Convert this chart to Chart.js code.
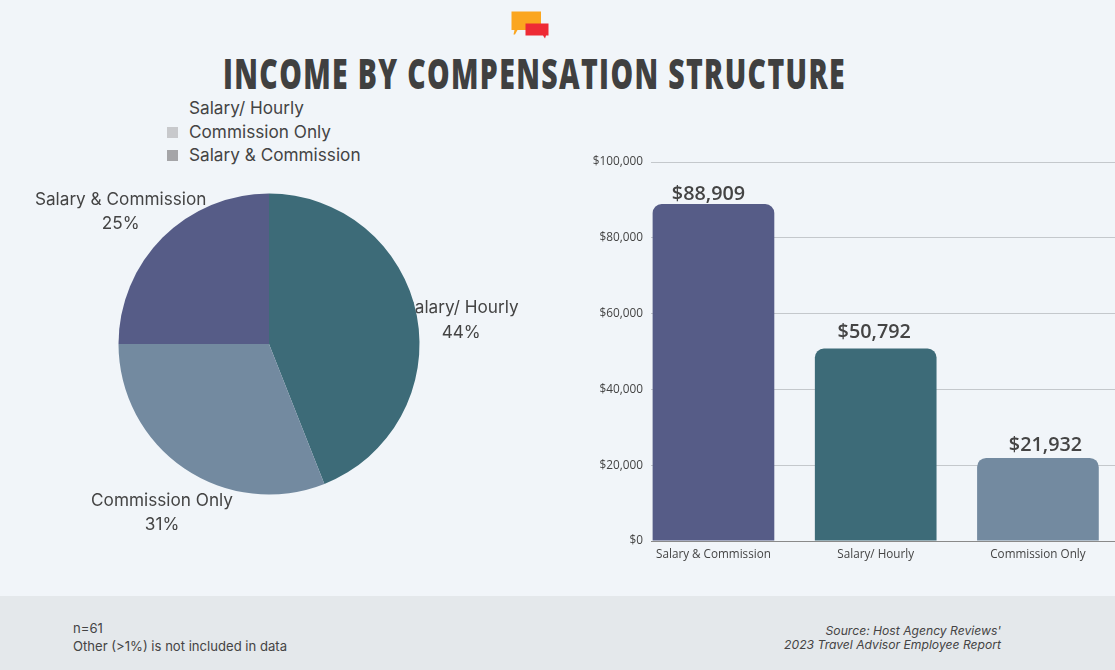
<!DOCTYPE html>
<html><head><meta charset="utf-8">
<script src="https://cdn.jsdelivr.net/npm/chart.js@4"></script>
<style>
html,body{margin:0;padding:0;width:1115px;height:670px;overflow:hidden;background:#f1f5f9;color:#444;}
#footer{position:absolute;left:0;top:596px;width:1115px;height:74px;background:#e4e8eb;}
.t{position:absolute;font-family:Inter,sans-serif;white-space:nowrap;}
#title{position:absolute;left:223px;top:46px;font-family:"Open Sans",sans-serif;font-weight:800;font-size:42px;line-height:54px;color:#404040;white-space:nowrap;transform-origin:0 0;letter-spacing:2px;}
canvas{position:absolute;}
.box{position:absolute;left:167px;width:11px;height:11px;}
</style></head>
<body>
<svg style="position:absolute;left:505px;top:5px" width="50" height="40" viewBox="505 5 50 40">
<path d="M511.500 11.500H541V30H517.500L515 34.500H513.500L514.500 30H511.500Z" fill="#fba61f"/>
<path d="M525.500 23.500H548.500V35.500H546L545 38.500L543 35.500H525.500Z" fill="#ee2a35"/>
</svg>
<div id="title">INCOME BY COMPENSATION STRUCTURE</div>
<div id="legend"></div>
<canvas id="pie" width="538" height="400" style="left:0;top:144px;width:538px;height:400px"></canvas>
<canvas id="bar" width="534" height="431" style="left:581px;top:140px;width:534px;height:431px"></canvas>
<div id="footer"></div>
<div class="t" style="left:73px;top:619px;font-size:13.100px;line-height:18px;">n=61<br>Other (&gt;1%) is not included in data</div>
<div class="t" style="right:114px;top:624px;font-size:12.150px;line-height:14px;font-style:italic;text-align:right;">Source: Host Agency Reviews'<br>2023 Travel Advisor Employee Report</div>
<script>
const pieCategories = ["Salary/ Hourly", "Commission Only", "Salary & Commission"];
const pieValues = [44, 31, 25];
const pieColors = ["#3d6b78", "#738aa0", "#565c87"];

const legendLabels = ["Salary/ Hourly", "Commission Only", "Salary & Commission"];
const legendColors = [null, "#c8c9cc", "#a5a5a8"];

const barCategories = ["Salary & Commission", "Salary/ Hourly", "Commission Only"];
const barPositions = [0, 1, 2];
const barValues = [88909, 50792, 21932];
const barColors = ["#565c87", "#3d6b78", "#738aa0"];

const legendEl = document.getElementById('legend');
legendLabels.forEach((l, i) => {
  const y = 96 + i * 23.5;
  const d = document.createElement('div');
  d.className = 't';
  d.style.cssText = `left:189px;top:${y}px;font-size:17.200px;line-height:24px;color:#444`;
  d.textContent = l;
  legendEl.appendChild(d);
  if (legendColors[i]) {
    const b = document.createElement('div');
    b.className = 'box';
    b.style.top = (y + 7) + 'px';
    b.style.background = legendColors[i];
    legendEl.appendChild(b);
  }
});

const pieLabelOffsets = [[0, 12.500], [3, 7], [-10, 6]];
const pieLabels = {
  id: 'pieLabels',
  beforeDatasetsDraw(chart) {
    const { ctx } = chart;
    const meta = chart.getDatasetMeta(0);
    ctx.save();
    ctx.font = '17.200px Inter, sans-serif';
    ctx.fillStyle = '#444';
    ctx.textAlign = 'center';
    ctx.textBaseline = 'middle';
    meta.data.forEach((arc, i) => {
      const a = (arc.startAngle + arc.endAngle) / 2;
      const r = arc.outerRadius * 1.3;
      const x = arc.x + Math.cos(a) * r + pieLabelOffsets[i][0];
      const y = arc.y + Math.sin(a) * r + pieLabelOffsets[i][1];
      ctx.fillText(pieCategories[i], x, y - 12);
      ctx.fillText(pieValues[i] + '%', x, y + 12.500);
    });
    ctx.restore();
  }
};

new Chart(document.getElementById('pie'), {
  type: 'pie',
  data: { labels: pieCategories, datasets: [{ data: pieValues, backgroundColor: pieColors, borderWidth: 0 }] },
  options: {
    responsive: false, animation: false, radius: 150.5,
    layout: { padding: 0 },
    plugins: { legend: { display: false }, tooltip: { enabled: false } }
  },
  plugins: [pieLabels]
});

const valueLabelOffsets = [[-5, 2], [-1.5, -4], [7.5, -1]];
const barValueLabels = {
  id: 'barValueLabels',
  afterDatasetsDraw(chart) {
    const { ctx } = chart;
    ctx.save();
    ctx.font = '600 19.800px "Open Sans", sans-serif';
    ctx.fillStyle = '#444';
    ctx.textAlign = 'center';
    ctx.textBaseline = 'alphabetic';
    chart.getDatasetMeta(0).data.forEach((b, i) => {
      ctx.fillText('$' + barValues[i].toLocaleString('en-US'), b.x + valueLabelOffsets[i][0], b.y - 6 + valueLabelOffsets[i][1]);
    });
    ctx.restore();
  }
};

new Chart(document.getElementById('bar'), {
  type: 'bar',
  data: {
    datasets: [{
      data: barPositions.map((p, i) => ({ x: p, y: barValues[i] })),
      backgroundColor: barColors,
      borderRadius: { topLeft: 9, topRight: 9 }, borderSkipped: 'bottom',
      barPercentage: 0.75, categoryPercentage: 1
    }]
  },
  options: {
    responsive: false, animation: false,
    layout: { padding: { top: 22, right: 0, left: 0, bottom: 0 } },
    plugins: { legend: { display: false }, tooltip: { enabled: false } },
    scales: {
      x: {
        type: 'linear', min: -0.385, max: 2.475, offset: false,
        grid: { display: false }, border: { display: false },
        afterFit: s => { s.height = 30; },
        ticks: {
          stepSize: 1, includeBounds: false, color: '#444', maxRotation: 0, padding: -1, autoSkip: false,
          font: { family: '"Open Sans", sans-serif', size: 11.700 },
          callback: v => barCategories[v]
        }
      },
      y: {
        min: 0, max: 100000,
        grid: { drawTicks: false, color: c => c.tick.value === 0 ? '#8a8a8a' : '#c4c8cc' },
        border: { display: false },
        afterFit: s => { s.width = 70; },
        ticks: {
          stepSize: 20000, color: '#444', padding: 8,
          font: { family: '"Open Sans", sans-serif', size: 11.800 },
          callback: v => '$' + Number(v).toLocaleString('en-US')
        }
      }
    }
  },
  plugins: [barValueLabels]
});

const title = document.getElementById('title');
const w = title.getBoundingClientRect().width;
title.style.transform = `scaleX(${623 / w})`;
</script>
</body></html>
